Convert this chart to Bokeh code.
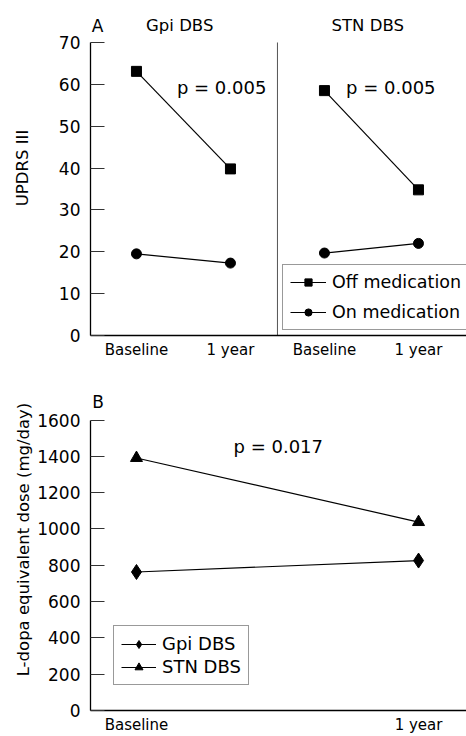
from bokeh.plotting import figure
from bokeh.models import Legend, LegendItem, Label, FixedTicker
from bokeh.layouts import column
from bokeh.embed import file_html
from bokeh.resources import INLINE

FONT = "DejaVu Sans"

# ---------------- data ----------------
timepoints = ["Baseline", "1 year"]
groups = ["Gpi DBS", "STN DBS"]
series_a = ["Off medication", "On medication"]
series_b = ["Gpi DBS", "STN DBS"]

gpi_off = [63.1, 39.8]
gpi_on = [19.5, 17.3]
stn_off = [58.5, 34.8]
stn_on = [19.7, 22.0]

ldopa_gpi = [763, 826]
ldopa_stn = [1391, 1038]

updrs_ticks = [0, 10, 20, 30, 40, 50, 60, 70]
ldopa_ticks = [0, 200, 400, 600, 800, 1000, 1200, 1400, 1600]

p_updrs_gpi = "p = 0.005"
p_updrs_stn = "p = 0.005"
p_ldopa = "p = 0.017"

# x positions (category index) for the two panels of A and for B
xa_gpi = [0, 1]
xa_stn = [2, 3]
xb = [0, 1]


def style(p):
    p.xgrid.visible = False
    p.ygrid.visible = False
    p.outline_line_color = None
    p.background_fill_color = "white"
    for ax in (p.xaxis, p.yaxis):
        ax.axis_line_color = "black"
        ax.axis_line_width = 1.3
        ax.minor_tick_line_color = None
        ax.major_label_text_font = FONT
        ax.major_label_text_color = "black"
        ax.axis_label_text_font = FONT
        ax.axis_label_text_font_style = "normal"
        ax.axis_label_text_color = "black"
        ax.axis_label_text_font_size = "16.5px"
    p.yaxis.major_tick_in = 14
    p.yaxis.major_tick_out = 0
    p.yaxis.major_tick_line_color = "#333333"
    p.yaxis.major_tick_line_width = 1.2
    p.yaxis.major_label_standoff = 10
    p.yaxis.major_label_text_font_size = "17px"
    p.xaxis.major_tick_line_color = None
    p.xaxis.major_tick_in = 0
    p.xaxis.major_tick_out = 0
    p.xaxis.major_label_standoff = 5
    p.xaxis.major_label_text_font_size = "15px"


def lab(p, x, y, text, size, align="left"):
    p.add_layout(Label(x=x, y=y, text=text, text_font=FONT, text_font_size=size,
                       text_align=align, text_baseline="middle", text_color="black"))


# ---------------- panel A ----------------
pa = figure(width=466, height=368, x_range=(-0.489, 3.511), y_range=(0, 80.03),
            output_backend="svg", toolbar_location=None,
            min_border_left=90, min_border_right=0, min_border_top=0, min_border_bottom=33)
style(pa)
pa.yaxis.ticker = FixedTicker(ticks=updrs_ticks)
pa.yaxis.bounds = (updrs_ticks[0], updrs_ticks[-1])
pa.yaxis.axis_label = "UPDRS III"
pa.yaxis.axis_label_standoff = 24
pa.xaxis.ticker = FixedTicker(ticks=xa_gpi + xa_stn)
pa.xaxis.major_label_overrides = {x: timepoints[i % 2] for i, x in enumerate(xa_gpi + xa_stn)}

# divider between the Gpi and STN panels
pa.segment(x0=[1.5], y0=[updrs_ticks[0]], x1=[1.5], y1=[updrs_ticks[-1]],
           line_color="#555555", line_width=1)

l_off = pa.line(xa_gpi, gpi_off, line_color="black", line_width=1.2)
s_off = pa.scatter(xa_gpi, gpi_off, marker="square", size=10, color="black")
l_on = pa.line(xa_gpi, gpi_on, line_color="black", line_width=1.2)
s_on = pa.scatter(xa_gpi, gpi_on, marker="circle", size=10, color="black")
pa.line(xa_stn, stn_off, line_color="black", line_width=1.2)
pa.scatter(xa_stn, stn_off, marker="square", size=10, color="black")
pa.line(xa_stn, stn_on, line_color="black", line_width=1.2)
pa.scatter(xa_stn, stn_on, marker="circle", size=10, color="black")

lab(pa, -0.475, 74.0, "A", "17px")
lab(pa, 0.46, 74.0, groups[0], "16.5px", "center")
lab(pa, 2.46, 74.0, groups[1], "16.5px", "center")
lab(pa, 0.43, 59.2, p_updrs_gpi, "18px")
lab(pa, 2.23, 59.2, p_updrs_stn, "18px")

leg_a = Legend(items=[LegendItem(label=series_a[0], renderers=[l_off, s_off]),
                      LegendItem(label=series_a[1], renderers=[l_on, s_on])],
               location=(192, 5), border_line_color="#333333", border_line_width=1,
               background_fill_color="white", background_fill_alpha=1,
               label_text_font=FONT, label_text_font_size="17.5px",
               label_text_color="black",
               glyph_width=36, glyph_height=18, label_height=18, spacing=10,
               padding=7, margin=0, label_standoff=6)
pa.add_layout(leg_a)

# ---------------- panel B ----------------
pb = figure(width=466, height=368, x_range=(-0.163, 1.170), y_range=(0, 1884),
            output_backend="svg", toolbar_location=None,
            min_border_left=90, min_border_right=0, min_border_top=0, min_border_bottom=23)
style(pb)
pb.yaxis.ticker = FixedTicker(ticks=ldopa_ticks)
pb.yaxis.bounds = (ldopa_ticks[0], ldopa_ticks[-1])
pb.yaxis.axis_label = "L-dopa equivalent dose (mg/day)"
pb.yaxis.axis_label_standoff = 1
pb.xaxis.ticker = FixedTicker(ticks=xb)
pb.xaxis.major_label_overrides = {x: timepoints[i] for i, x in enumerate(xb)}

lg = pb.line(xb, ldopa_gpi, line_color="black", line_width=1.2)
sg = pb.scatter(xb, ldopa_gpi, marker="diamond", size=15, color="black")
ls = pb.line(xb, ldopa_stn, line_color="black", line_width=1.2)
ss = pb.scatter(xb, ldopa_stn, marker="triangle", size=12, color="black")

lab(pb, -0.157, 1698, "B", "17px")
lab(pb, 0.344, 1452, p_ldopa, "18px")

leg_b = Legend(items=[LegendItem(label=series_b[0], renderers=[lg, sg]),
                      LegendItem(label=series_b[1], renderers=[ls, ss])],
               location=(23, 25), border_line_color="#333333", border_line_width=1,
               background_fill_color="white", background_fill_alpha=1,
               label_text_font=FONT, label_text_font_size="18px",
               label_text_color="black",
               glyph_width=35, glyph_height=20, label_height=20, spacing=2,
               padding=7, margin=0, label_standoff=6)
pb.add_layout(leg_b)

layout = column(pa, pb, spacing=0)
open("out.html", "w").write(file_html(layout, INLINE))
